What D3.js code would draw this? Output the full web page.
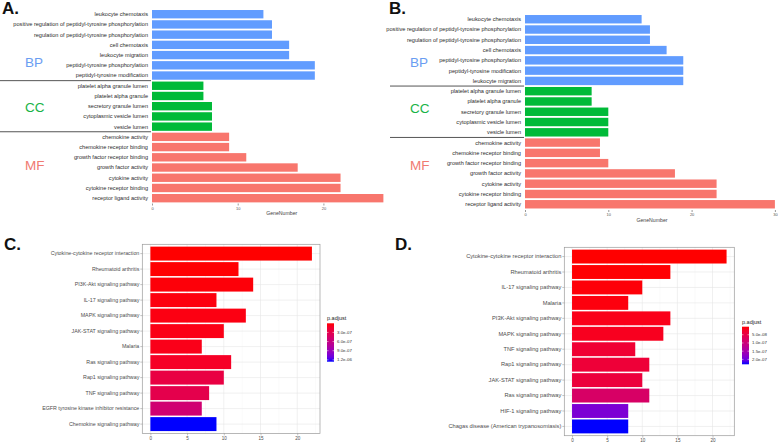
<!DOCTYPE html>
<html>
<head>
<meta charset="utf-8">
<script src="https://cdn.jsdelivr.net/npm/d3@7/dist/d3.min.js"></script>
<style>
  body { margin: 0; background: #fff; }
  svg { display: block; font-family: "Liberation Sans", Arial, sans-serif; }
</style>
</head>
<body>
<svg id="chart" width="778" height="444"></svg>
<script>
// ---- panel A : GO terms (first set) ----
const goTermsA = [
  "leukocyte chemotaxis",
  "positive regulation of peptidyl-tyrosine phosphorylation",
  "regulation of peptidyl-tyrosine phosphorylation",
  "cell chemotaxis",
  "leukocyte migration",
  "peptidyl-tyrosine phosphorylation",
  "peptidyl-tyrosine modification",
  "platelet alpha granule lumen",
  "platelet alpha granule",
  "secretory granule lumen",
  "cytoplasmic vesicle lumen",
  "vesicle lumen",
  "chemokine activity",
  "chemokine receptor binding",
  "growth factor receptor binding",
  "growth factor activity",
  "cytokine activity",
  "cytokine receptor binding",
  "receptor ligand activity"
];
const goCountsA = [13, 14, 14, 16, 16, 19, 19, 6, 6, 7, 7, 7, 9, 9, 11, 17, 22, 22, 27];
const goGroupsA = ["BP","BP","BP","BP","BP","BP","BP","CC","CC","CC","CC","CC","MF","MF","MF","MF","MF","MF","MF"];
const goTicksA = [0, 10, 20];

// ---- panel B : GO terms (second set) ----
const goTermsB = [
  "leukocyte chemotaxis",
  "positive regulation of peptidyl-tyrosine phosphorylation",
  "regulation of peptidyl-tyrosine phosphorylation",
  "cell chemotaxis",
  "peptidyl-tyrosine phosphorylation",
  "peptidyl-tyrosine modification",
  "leukocyte migration",
  "platelet alpha granule lumen",
  "platelet alpha granule",
  "secretory granule lumen",
  "cytoplasmic vesicle lumen",
  "vesicle lumen",
  "chemokine activity",
  "chemokine receptor binding",
  "growth factor receptor binding",
  "growth factor activity",
  "cytokine activity",
  "cytokine receptor binding",
  "receptor ligand activity"
];
const goCountsB = [14, 15, 15, 17, 19, 19, 19, 8, 8, 10, 10, 10, 9, 9, 10, 18, 23, 23, 30];
const goGroupsB = goGroupsA.slice();
const goTicksB = [0, 10, 20, 30];

// ---- panel C : KEGG pathways (first set) ----
const keggTermsC = [
  "Cytokine-cytokine receptor interaction",
  "Rheumatoid arthritis",
  "PI3K-Akt signaling pathway",
  "IL-17 signaling pathway",
  "MAPK signaling pathway",
  "JAK-STAT signaling pathway",
  "Malaria",
  "Ras signaling pathway",
  "Rap1 signaling pathway",
  "TNF signaling pathway",
  "EGFR tyrosine kinase inhibitor resistance",
  "Chemokine signaling pathway"
];
const keggCountsC = [22, 12, 14, 9, 13, 10, 7, 11, 10, 8, 7, 9];
const keggPadjC = [1e-9, 5e-9, 2e-8, 3e-8, 4e-8, 5e-8, 6e-8, 1.1e-7, 2.5e-7, 3.0e-7, 5.0e-7, 1.26e-6];
const keggLegendTicksC = [3e-7, 6e-7, 9e-7, 1.2e-6];

// ---- panel D : KEGG pathways (second set) ----
const keggTermsD = [
  "Cytokine-cytokine receptor interaction",
  "Rheumatoid arthritis",
  "IL-17 signaling pathway",
  "Malaria",
  "PI3K-Akt signaling pathway",
  "MAPK signaling pathway",
  "TNF signaling pathway",
  "Rap1 signaling pathway",
  "JAK-STAT signaling pathway",
  "Ras signaling pathway",
  "HIF-1 signaling pathway",
  "Chagas disease (American trypanosomiasis)"
];
const keggCountsD = [22, 14, 10, 8, 14, 13, 9, 11, 10, 11, 8, 8];
const keggPadjD = [1e-9, 2e-9, 4e-9, 6e-9, 1.2e-8, 1.6e-8, 3.2e-8, 3.6e-8, 4.0e-8, 8.0e-8, 1.9e-7, 2.3e-7];
const keggLegendTicksD = [5e-8, 1e-7, 1.5e-7, 2e-7];
const keggTicks = [0, 5, 10, 15, 20];

const groupColors = { BP: "#619CFF", CC: "#00BA38", MF: "#F8766D" };
const groupText = { BP: "#6A9DF2", CC: "#19B347", MF: "#F07A72" };

const svg = d3.select("#chart");

// panel letters
[["A.", 2, 14], ["B.", 389, 14], ["C.", 4, 250], ["D.", 395, 250]].forEach(([t, x, y]) => {
  svg.append("text").attr("x", x).attr("y", y)
    .attr("font-size", 17).attr("font-weight", "bold").attr("fill", "#111").text(t);
});

// GO bar panel (A and B)
function drawGO(cfg) {
  const g = svg.append("g");
  const y = d3.scaleBand().domain(cfg.terms).range(cfg.yRange)
    .paddingInner(0.18).paddingOuter(0.09);
  const x = d3.scaleLinear().domain([0, cfg.ticks[1]]).range(cfg.xRange);

  g.selectAll("rect.bar")
    .data(cfg.terms)
    .join("rect")
      .attr("class", "bar")
      .attr("x", x(0))
      .attr("y", d => y(d))
      .attr("width", (d, i) => x(cfg.counts[i]) - x(0))
      .attr("height", y.bandwidth())
      .attr("fill", (d, i) => groupColors[cfg.groups[i]]);

  // category labels
  g.selectAll("text.term")
    .data(cfg.terms)
    .join("text")
      .attr("class", "term")
      .attr("x", x(0) - 4)
      .attr("y", d => y(d) + y.bandwidth() / 2)
      .attr("dy", "0.35em")
      .attr("text-anchor", "end")
      .attr("font-size", 5.6)
      .attr("fill", "#2b2b2b")
      .text(d => d);

  // separators between the three ontologies
  for (let i = 1; i < cfg.terms.length; i++) {
    if (cfg.groups[i] !== cfg.groups[i - 1]) {
      const yy = (y(cfg.terms[i - 1]) + y.bandwidth() + y(cfg.terms[i])) / 2;
      g.append("line")
        .attr("x1", cfg.sepLeft).attr("x2", x(0) - 1)
        .attr("y1", yy).attr("y2", yy)
        .attr("stroke", "#555").attr("stroke-width", 1);
    }
  }

  // ontology labels
  Object.keys(cfg.groupLabelY).forEach(k => {
    g.append("text")
      .attr("x", cfg.groupLabelX).attr("y", cfg.groupLabelY[k])
      .attr("font-size", 13.5).attr("fill", groupText[k]).text(k);
  });

  // x axis
  const axis = d3.axisBottom(x).tickValues(cfg.ticks).tickSize(2).tickPadding(1.5);
  const ax = g.append("g").attr("transform", `translate(0,${cfg.axisY})`).call(axis);
  ax.select(".domain").remove();
  ax.selectAll("line").attr("stroke", "#999");
  ax.selectAll("text").attr("font-size", 4).attr("fill", "#555").attr("font-family", null);

  g.append("text")
    .attr("x", (x(0) + x(cfg.ticks[cfg.ticks.length - 1])) / 2 + cfg.titleShift)
    .attr("y", cfg.axisY + 11.5)
    .attr("text-anchor", "middle")
    .attr("font-size", 5.2).attr("fill", "#444").text("GeneNumber");
}

drawGO({
  terms: goTermsA, counts: goCountsA, groups: goGroupsA, ticks: goTicksA,
  yRange: [9.1, 203.3], xRange: [152, 237.7], axisY: 203.5,
  sepLeft: 0, groupLabelX: 25, groupLabelY: { BP: 67, CC: 112, MF: 170 }, titleShift: 44
});

drawGO({
  terms: goTermsB, counts: goCountsB, groups: goGroupsB, ticks: goTicksB,
  yRange: [14.1, 209.4], xRange: [525, 608.3], axisY: 210,
  sepLeft: 390, groupLabelX: 410, groupLabelY: { BP: 67, CC: 113, MF: 170 }, titleShift: 2
});

// KEGG bar panel (C and D), coloured by p.adjust
function fmtP(v) {
  return d3.format(".1e")(v).replace(/e([+-])(\d)$/, "e$10$2");
}

function drawKEGG(cfg) {
  const g = svg.append("g");
  const [l, t, r, b] = cfg.frame;
  const x = d3.scaleLinear().domain([-1.1, 23.1]).range([l, r]);
  const y = d3.scaleBand().domain(cfg.terms).range([t, b])
    .paddingInner(0.1).paddingOuter(0.15);
  const ext = d3.extent(cfg.padj);
  const color = d3.scaleLinear().domain(ext).range(["red", "blue"]).interpolate(d3.interpolateLab);

  // background grid
  const minor = d3.range(2.5, 23, 5);
  g.selectAll("line.minor").data(minor).join("line")
    .attr("x1", d => x(d)).attr("x2", d => x(d)).attr("y1", t).attr("y2", b)
    .attr("stroke", "#f2f2f2").attr("stroke-width", 0.4);
  g.selectAll("line.vmajor").data(cfg.ticks).join("line")
    .attr("x1", d => x(d)).attr("x2", d => x(d)).attr("y1", t).attr("y2", b)
    .attr("stroke", "#e6e6e6").attr("stroke-width", 0.6);
  g.selectAll("line.hmajor").data(cfg.terms).join("line")
    .attr("x1", l).attr("x2", r)
    .attr("y1", d => y(d) + y.bandwidth() / 2).attr("y2", d => y(d) + y.bandwidth() / 2)
    .attr("stroke", "#e6e6e6").attr("stroke-width", 0.6);

  g.selectAll("rect.bar")
    .data(cfg.terms)
    .join("rect")
      .attr("class", "bar")
      .attr("x", x(0))
      .attr("y", d => y(d))
      .attr("width", (d, i) => x(cfg.counts[i]) - x(0))
      .attr("height", y.bandwidth())
      .attr("fill", (d, i) => color(cfg.padj[i]));

  g.append("rect")
    .attr("x", l).attr("y", t).attr("width", r - l).attr("height", b - t)
    .attr("fill", "none").attr("stroke", "#9a9a9a").attr("stroke-width", 0.7);

  const yAxis = d3.axisLeft(y).tickSize(2).tickPadding(1);
  const ay = g.append("g").attr("transform", `translate(${l},0)`).call(yAxis);
  ay.select(".domain").remove();
  ay.selectAll("line").attr("stroke", "#888").attr("stroke-width", 0.5);
  ay.selectAll("text").attr("font-size", cfg.labelSize).attr("fill", "#4d4d4d").attr("font-family", null);

  const xAxis = d3.axisBottom(x).tickValues(cfg.ticks).tickSize(2).tickPadding(1.5);
  const ax = g.append("g").attr("transform", `translate(0,${b})`).call(xAxis);
  ax.select(".domain").remove();
  ax.selectAll("line").attr("stroke", "#888").attr("stroke-width", 0.5);
  ax.selectAll("text").attr("font-size", 4.6).attr("fill", "#4d4d4d").attr("font-family", null);

  // colour bar legend
  const [lx, ly, lw, lh] = cfg.legend;
  const gid = "grad" + cfg.id;
  const grad = svg.append("defs").append("linearGradient")
    .attr("id", gid).attr("x1", 0).attr("x2", 0).attr("y1", 0).attr("y2", 1);
  d3.range(0, 1.0001, 0.1).forEach(f => {
    grad.append("stop").attr("offset", f)
      .attr("stop-color", d3.interpolateLab("red", "blue")(f));
  });
  g.append("text").attr("x", lx).attr("y", ly - 3)
    .attr("font-size", 5.5).attr("fill", "#222").text("p.adjust");
  g.append("rect").attr("x", lx).attr("y", ly).attr("width", lw).attr("height", lh)
    .attr("fill", `url(#${gid})`);
  const ls = d3.scaleLinear().domain(ext).range([ly, ly + lh]);
  cfg.legendTicks.forEach(v => {
    const yy = ls(v);
    g.append("line").attr("x1", lx).attr("x2", lx + 1.5).attr("y1", yy).attr("y2", yy)
      .attr("stroke", "#fff").attr("stroke-width", 0.5);
    g.append("line").attr("x1", lx + lw - 1.5).attr("x2", lx + lw).attr("y1", yy).attr("y2", yy)
      .attr("stroke", "#fff").attr("stroke-width", 0.5);
    g.append("text").attr("x", lx + lw + 3).attr("y", yy).attr("dy", "0.35em")
      .attr("font-size", 4.4).attr("fill", "#333").text(fmtP(v));
  });
}

drawKEGG({
  id: "C", terms: keggTermsC, counts: keggCountsC, padj: keggPadjC, ticks: keggTicks, labelSize: 5.3,
  frame: [142.3, 244.3, 320, 433.4], legend: [327, 323.3, 7, 38.4], legendTicks: keggLegendTicksC
});

drawKEGG({
  id: "D", terms: keggTermsD, counts: keggCountsD, padj: keggPadjD, ticks: keggTicks, labelSize: 5.7,
  frame: [564.3, 247.3, 734.3, 435.7], legend: [742, 326.7, 7, 37.6], legendTicks: keggLegendTicksD
});
</script>
</body>
</html>
